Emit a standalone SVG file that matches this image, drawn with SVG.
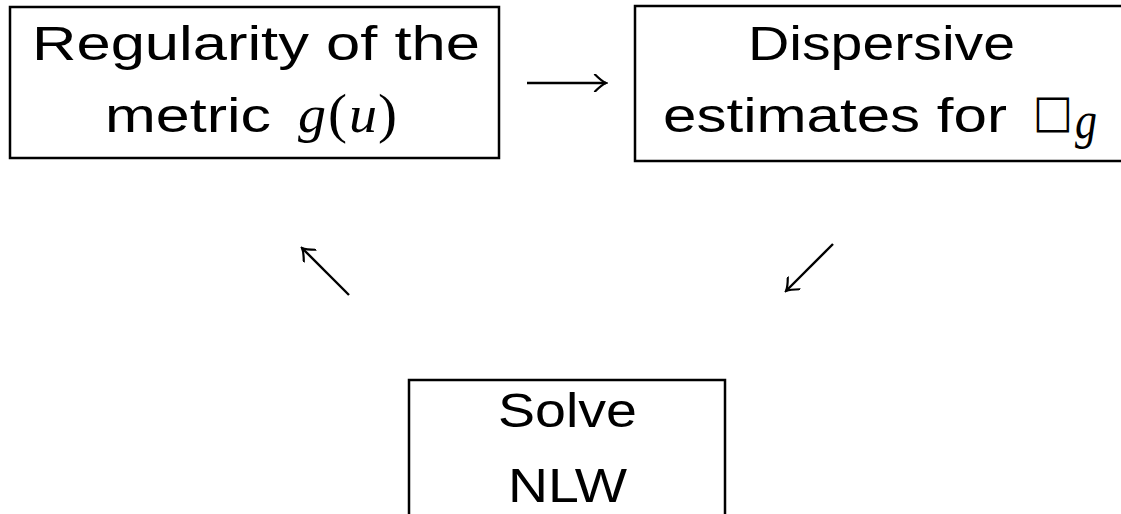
<svg xmlns="http://www.w3.org/2000/svg" width="1121" height="514" viewBox="0 0 1121 514">
<style>
.box{fill:none;stroke:#000;stroke-width:2.5}
.t{font-family:"Liberation Sans",Arial,sans-serif;font-size:48px;fill:#000}
.mi{font-family:"Liberation Serif","Times New Roman",serif;font-style:italic;font-size:52px;fill:#000}
.mu{font-family:"Liberation Serif","Times New Roman",serif;font-size:54px;fill:#000}
.c{fill:none;stroke:#000;stroke-width:2.4}
</style>
<defs>
<marker id="ah" viewBox="-13 -9 15 18" markerWidth="15" markerHeight="18" refX="0" refY="0" orient="auto" markerUnits="userSpaceOnUse">
<path d="M-11,-8.5 Q-4,-1.5 0,0 Q-4,1.5 -11,8.5" fill="none" stroke="#000" stroke-width="2.2" stroke-linecap="round"/>
</marker>
</defs>
<g id="node-regularity">
<rect class="box" x="10" y="7" width="489" height="151"/>
<text class="t" x="32" y="60" textLength="448" lengthAdjust="spacingAndGlyphs">Regularity of the</text>
<text class="t" x="105" y="132" textLength="166" lengthAdjust="spacingAndGlyphs">metric</text>
<text class="mi" x="298" y="132" textLength="28" lengthAdjust="spacingAndGlyphs">g</text>
<text class="mu" x="328" y="132" textLength="19" lengthAdjust="spacingAndGlyphs">(</text>
<text class="mi" x="349" y="132" textLength="28" lengthAdjust="spacingAndGlyphs">u</text>
<text class="mu" x="378" y="132" textLength="19" lengthAdjust="spacingAndGlyphs">)</text>
</g>
<g id="node-dispersive">
<rect class="box" x="635" y="6" width="500" height="155"/>
<text class="t" x="748" y="60" textLength="267" lengthAdjust="spacingAndGlyphs">Dispersive</text>
<text class="t" x="663" y="132" textLength="344" lengthAdjust="spacingAndGlyphs">estimates for</text>
<text x="1033" y="127" font-family="DejaVu Sans,sans-serif" font-size="46" textLength="40" lengthAdjust="spacingAndGlyphs">□</text>
<text class="mi" x="1075" y="138" font-size="38" textLength="22" lengthAdjust="spacingAndGlyphs">g</text>
</g>
<g id="node-solve">
<rect class="box" x="409" y="380" width="316" height="150"/>
<text class="t" x="498" y="427" textLength="139" lengthAdjust="spacingAndGlyphs">Solve</text>
<text class="t" x="508" y="502" textLength="119" lengthAdjust="spacingAndGlyphs">NLW</text>
</g>
<g id="connectors">
<line class="c" x1="527" y1="83" x2="606" y2="83" marker-end="url(#ah)"/>
<line class="c" x1="833" y1="244" x2="786" y2="291" marker-end="url(#ah)"/>
<line class="c" x1="349" y1="295" x2="302" y2="248" marker-end="url(#ah)"/>
</g>
</svg>
